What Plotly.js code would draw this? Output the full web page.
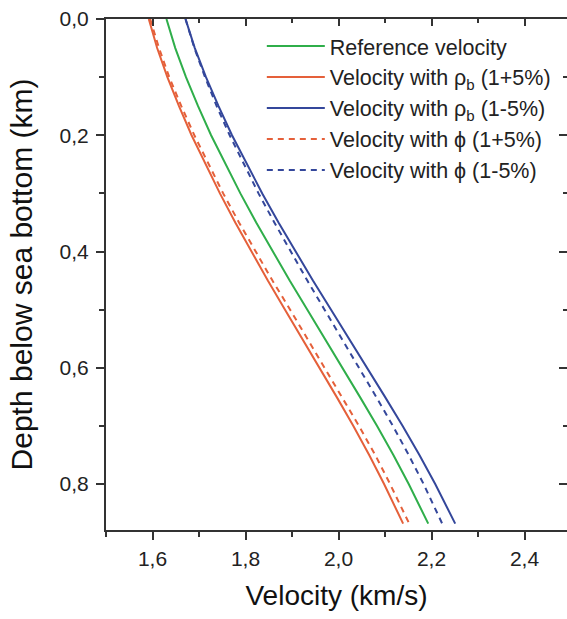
<!DOCTYPE html>
<html>
<head>
<meta charset="utf-8">
<script src="https://cdn.plot.ly/plotly-3.0.1.min.js"></script>
<style>
  html, body { margin: 0; padding: 0; background: #fff; }
  #chart { width: 567px; height: 619px; }
</style>
</head>
<body>
<div id="chart"></div>
<script>
// Depth below sea bottom (km)
const depth = [0, 0.05, 0.1, 0.15, 0.2, 0.25, 0.3, 0.35, 0.4, 0.45, 0.5, 0.55, 0.6, 0.65, 0.7, 0.75, 0.8, 0.868];
// Velocities (km/s)
const refVelocity = [1.630, 1.649, 1.672, 1.698, 1.726, 1.757, 1.789, 1.823, 1.859, 1.895, 1.933, 1.971, 2.009, 2.046, 2.083, 2.118, 2.151, 2.193];
const rhoPlus     = [1.592, 1.610, 1.632, 1.657, 1.684, 1.714, 1.745, 1.778, 1.813, 1.848, 1.885, 1.922, 1.960, 1.996, 2.032, 2.066, 2.098, 2.139];
const rhoMinus    = [1.671, 1.691, 1.715, 1.742, 1.771, 1.803, 1.836, 1.871, 1.908, 1.945, 1.984, 2.023, 2.062, 2.100, 2.138, 2.174, 2.208, 2.251];
const phiPlus     = [1.595, 1.614, 1.636, 1.662, 1.690, 1.721, 1.752, 1.786, 1.822, 1.858, 1.896, 1.933, 1.971, 2.008, 2.044, 2.079, 2.111, 2.152];
const phiMinus    = [1.671, 1.690, 1.713, 1.738, 1.766, 1.797, 1.828, 1.862, 1.897, 1.933, 1.970, 2.007, 2.045, 2.081, 2.117, 2.151, 2.183, 2.223];

const seriesNames = [
  'Reference velocity',
  'Velocity with ρ<sub>b</sub> (1+5%)',
  'Velocity with ρ<sub>b</sub> (1-5%)',
  'Velocity with ϕ (1+5%)',
  'Velocity with ϕ (1-5%)'
];

const GREEN = '#2fae4a', RED = '#e5603a', BLUE = '#34479b';
const DASH = '6px,5px';

const traces = [
  {x: refVelocity, y: depth, name: seriesNames[0], mode: 'lines', line: {color: GREEN, width: 2}},
  {x: rhoPlus, y: depth, name: seriesNames[1], mode: 'lines', line: {color: RED, width: 2}},
  {x: rhoMinus, y: depth, name: seriesNames[2], mode: 'lines', line: {color: BLUE, width: 2}},
  {x: phiPlus, y: depth, name: seriesNames[3], mode: 'lines', line: {color: RED, width: 2, dash: DASH}},
  {x: phiMinus, y: depth, name: seriesNames[4], mode: 'lines', line: {color: BLUE, width: 2, dash: DASH}},
  {x: refVelocity, y: depth, xaxis: 'x2', yaxis: 'y2', mode: 'lines', opacity: 0,
   line: {width: 0}, showlegend: false, hoverinfo: 'skip'}
];

const FONT = 'Liberation Sans, Arial, sans-serif';
const AX = '#333333';
const XR = [1.5, 2.4914];
const YR = [0.879, 0];

const layout = {
  width: 567, height: 619,
  margin: {l: 106, r: 0, t: 19, b: 89, pad: 0},
  paper_bgcolor: '#ffffff', plot_bgcolor: '#ffffff',
  separators: ',.',
  font: {family: FONT, color: '#222222'},
  showlegend: true,
  legend: {
    x: 0.338, y: 0.987, xanchor: 'left', yanchor: 'top',
    bgcolor: 'rgba(0,0,0,0)', borderwidth: 0,
    font: {family: FONT, size: 21.5, color: '#222222'},
    itemwidth: 58, tracegroupgap: 0
  },
  xaxis: {
    range: XR, showgrid: false, zeroline: false,
    showline: true, linecolor: AX, linewidth: 2,
    ticks: 'outside', ticklen: 8, tickwidth: 2, tickcolor: AX,
    dtick: 0.2, tick0: 0, tickformat: '.1f',
    minor: {dtick: 0.1, tick0: 0, ticks: 'outside', ticklen: 5, tickwidth: 2, tickcolor: AX},
    tickfont: {family: FONT, size: 21, color: '#222222'},
    ticklabelstandoff: 1,
    title: {text: 'Velocity (km/s)', font: {family: FONT, size: 28, color: '#111111'}, standoff: 16}
  },
  yaxis: {
    range: YR, showgrid: false, zeroline: false,
    showline: true, linecolor: AX, linewidth: 2,
    ticks: 'outside', ticklen: 8, tickwidth: 2, tickcolor: AX,
    dtick: 0.2, tick0: 0, tickformat: '.1f',
    minor: {dtick: 0.1, tick0: 0, ticks: 'outside', ticklen: 5, tickwidth: 2, tickcolor: AX},
    tickfont: {family: FONT, size: 21, color: '#222222'},
    ticklabelstandoff: 3,
    title: {text: 'Depth below sea bottom (km)', font: {family: FONT, size: 30, color: '#111111'}, standoff: 18}
  },
  xaxis2: {
    range: XR, overlaying: 'x', side: 'top', anchor: 'y2',
    showgrid: false, zeroline: false, showticklabels: false,
    showline: true, linecolor: AX, linewidth: 2,
    ticks: 'inside', ticklen: 7, tickwidth: 2, tickcolor: AX,
    dtick: 0.2, tick0: 0,
    minor: {dtick: 0.1, tick0: 0, ticks: 'inside', ticklen: 4, tickwidth: 2, tickcolor: AX}
  },
  yaxis2: {
    range: YR, overlaying: 'y', side: 'right', anchor: 'x2',
    showgrid: false, zeroline: false, showticklabels: false,
    showline: false,
    ticks: 'inside', ticklen: 8, tickwidth: 2, tickcolor: AX,
    dtick: 0.2, tick0: 0,
    minor: {dtick: 0.1, tick0: 0, ticks: 'inside', ticklen: 4, tickwidth: 2, tickcolor: AX}
  }
};

Plotly.newPlot('chart', traces, layout, {staticPlot: true, displayModeBar: false});
</script>
</body>
</html>
